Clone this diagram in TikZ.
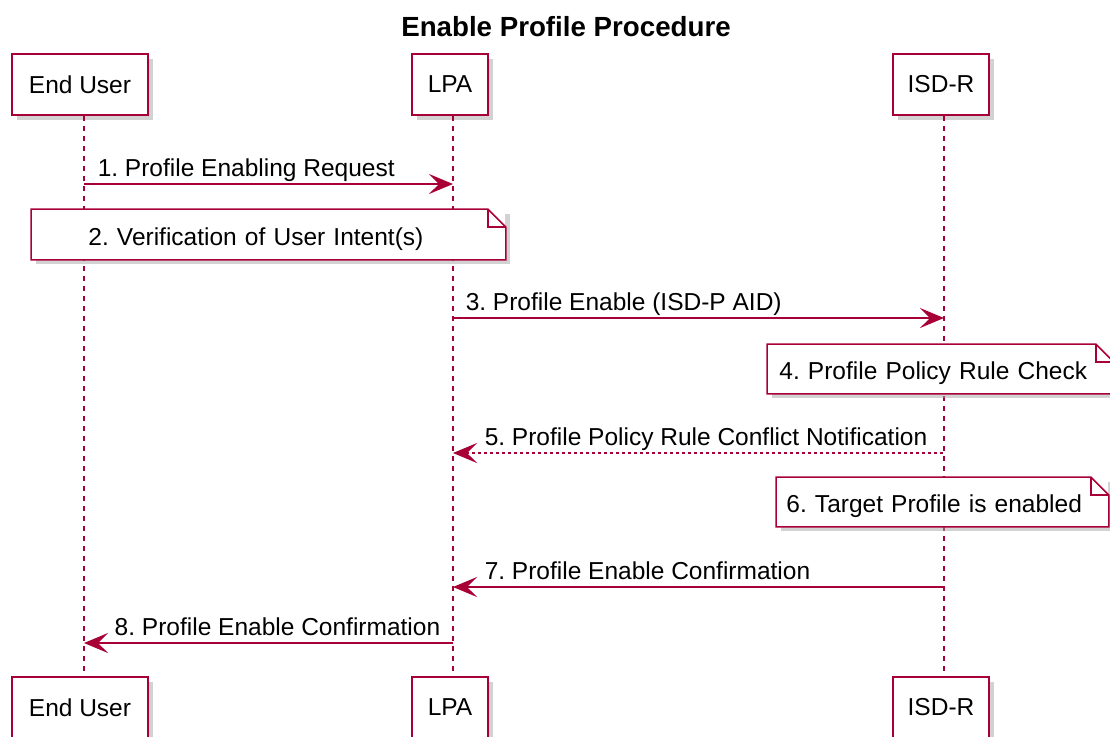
\documentclass[tikz,border=0pt]{standalone}
\usepackage{fontspec}
\setmainfont{Liberation Sans}
\usetikzlibrary{arrows.meta}
\usetikzlibrary{positioning}
\usetikzlibrary{shadows}
\definecolor{seqred}{HTML}{A80036}
\frenchspacing

\begin{document}
\begin{tikzpicture}[x=0.5pt,y=-0.5pt,
		font=\fontsize{12.25}{14}\selectfont,
		>={Stealth[length=12pt,width=10pt,inset=5pt]},
		boxshadow/.style={drop shadow={shadow xshift=2.5pt,shadow yshift=-2.5pt,fill=black!35}},
		actor/.style={draw=seqred,line width=1pt,fill=white,minimum height=30.5pt,inner sep=0pt,boxshadow},
		life/.style={seqred,line width=0.75pt,dash pattern=on 2.5pt off 2.5pt},
		msg/.style={seqred,line width=0.75pt},
		lbl/.style={text=black,inner sep=0pt,anchor=base west,yshift=4pt},
		note/.style={fill=white,inner ysep=0pt,minimum height=24.5pt,text height=11.5pt,text depth=0.5pt,
			align=left,anchor=north west,boxshadow},
		noteline/.style={seqred,line width=0.75pt}]
		\useasboundingbox (0,0) rectangle (1110,736);

		\node [font=\bfseries\fontsize{13.85}{16}\selectfont,anchor=base] (title) at (566,36) {Enable Profile Procedure};

		% participants
		\node [actor,minimum width=68pt] (user) at (80,84.5) {End User};
		\node [actor,minimum width=38pt] (lpa) at (450,84.5) {LPA};
		\node [actor,minimum width=48pt] (isdr) at (941,84.5) {ISD-R};
		\node [actor,minimum width=68pt] (userb) at (80,707.5) {End User};
		\node [actor,minimum width=38pt] (lpab) at (450,707.5) {LPA};
		\node [actor,minimum width=48pt] (isdrb) at (941,707.5) {ISD-R};

		\coordinate (userx) at ([xshift=2pt]user.south);
		\coordinate (lpax) at ([xshift=1.5pt]lpa.south);
		\coordinate (isdrx) at ([xshift=1.5pt]isdr.south);

		\draw [life] (userx) -- (userx |- userb.north);
		\draw [life] (lpax) -- (lpax |- lpab.north);
		\draw [life] (isdrx) -- (isdrx |- isdrb.north);

		% rows
		\coordinate (r1) at (0,184);
		\coordinate (r3) at (0,318);
		\coordinate (r5) at (0,453);
		\coordinate (r7) at (0,587);
		\coordinate (r8) at (0,643);

		\draw [msg,->] (userx |- r1) -- node [pos=0,lbl,xshift=6.5pt] (m1) {1. Profile Enabling Request} (lpax |- r1);
		\draw [msg,->] (lpax |- r3) -- node [pos=0,lbl,xshift=6pt] (m3) {3. Profile Enable (ISD-P AID)} (isdrx |- r3);
		\draw [msg,<-,dash pattern=on 1.5pt off 1.5pt] (lpax |- r5) -- node [pos=0,lbl,xshift=15.5pt] (m5) {5. Profile Policy Rule Conflict Notification} (isdrx |- r5);
		\draw [msg,<-] (lpax |- r7) -- node [pos=0,lbl,xshift=15.5pt] (m7) {7. Profile Enable Confirmation} (isdrx |- r7);
		\draw [msg,<-] (userx |- r8) -- node [pos=0,lbl,xshift=15pt] (m8) {8. Profile Enable Confirmation} (lpax |- r8);

		% notes
		\node [note,text width=180pt,inner xsep=28.5pt,minimum height=25pt] (n2) at (31,209) {2. Verification of User Intent(s)};
		\node [note,text width=161pt,inner xsep=6pt] (n4) at (767,344) {4. Profile Policy Rule Check};
		\node [note,text width=156pt,inner xsep=5pt] (n6) at (776,477) {6. Target Profile is enabled};

		\foreach \n in {n2,n4,n6} {
			\draw [noteline] (\n.south west) -- (\n.north west) -- ([xshift=-9pt]\n.north east)
				-- ([yshift=-9pt]\n.north east) -- (\n.south east) -- cycle;
			\draw [noteline] ([xshift=-9pt]\n.north east) |- ([yshift=-9pt]\n.north east);
		}
	\end{tikzpicture}
\end{document}
